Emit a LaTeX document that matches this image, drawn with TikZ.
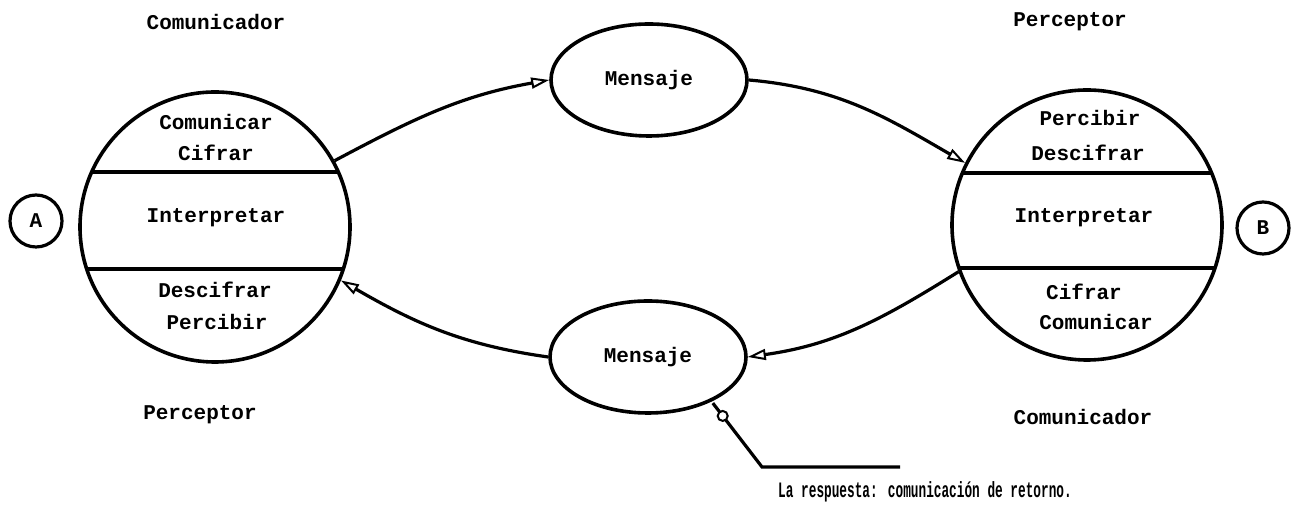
\documentclass[tikz,border=0pt]{standalone}
\usepackage{fontspec}
\newfontfamily\twfont{Liberation Mono}
\newfontfamily\capfont[FakeStretch=0.58]{Liberation Mono}
\usetikzlibrary{arrows.meta,shapes.geometric}
\tikzset{
  lbl/.style={font=\twfont\bfseries\fontsize{21}{24}\selectfont, inner sep=0pt},
  caplbl/.style={font=\capfont\bfseries\fontsize{22}{24}\selectfont, inner sep=0pt},
  bigc/.style={draw, circle, line width=3.6pt, minimum size=270pt, inner sep=0pt},
  smallc/.style={draw, circle, line width=3.2pt, minimum size=52pt, inner sep=0pt,
    font=\twfont\bfseries\fontsize{21}{24}\selectfont},
  msg/.style={draw, ellipse, line width=3.6pt, minimum width=196pt, minimum height=112pt,
    inner sep=0pt, font=\twfont\bfseries\fontsize{21}{24}\selectfont},
  chord/.style={line width=3.2pt},
  conn/.style={line width=3.2pt, -{Triangle[open, length=18pt, width=11pt, line width=2pt]}},
  ptr/.style={line width=3.2pt},
  dotc/.style={draw, circle, line width=2pt, minimum size=10pt, inner sep=0pt, fill=white}
}
\begin{document}
\begin{tikzpicture}[x=1pt,y=1pt]
\useasboundingbox (0,0) rectangle (1299,510);
% main circles
\node[bigc] (L) at (215,283) {};
\node[bigc] (R) at (1087,285) {};
\node[smallc] (A) at (36,289) {A};
\node[smallc] (B) at (1263,282) {B};
% chords
\begin{scope}
  \clip (L.center) circle[radius=135];
  \draw[chord] ([yshift=55pt]L.west) -- ([yshift=55pt]L.east);
  \draw[chord] ([yshift=-42pt]L.west) -- ([yshift=-42pt]L.east);
\end{scope}
\begin{scope}
  \clip (R.center) circle[radius=135];
  \draw[chord] ([yshift=52pt]R.west) -- ([yshift=52pt]R.east);
  \draw[chord] ([yshift=-43pt]R.west) -- ([yshift=-43pt]R.east);
\end{scope}
% left circle texts
\node[lbl] (l1) at (216,388) {Comunicar};
\node[lbl] (l2) at (216,357) {Cifrar};
\node[lbl] (l3) at (216,292) {Interpretar};
\node[lbl] (l4) at (215,220) {Descifrar};
\node[lbl] (l5) at (217,188) {Percibir};
% right circle texts
\node[lbl] (r1) at (1090,392) {Percibir};
\node[lbl] (r2) at (1088,357) {Descifrar};
\node[lbl] (r3) at (1084,292) {Interpretar};
\node[lbl] (r4) at (1084,218) {Cifrar};
\node[lbl] (r5) at (1096,188) {Comunicar};
% role labels
\node[lbl] (t1) at (216,488) {Comunicador};
\node[lbl] (t2) at (1070,488) {Perceptor};
\node[lbl] (t3) at (200,95) {Perceptor};
\node[lbl] (t4) at (1083,93) {Comunicador};
% message ellipses
\node[msg] (M1) at (649,430) {Mensaje};
\node[msg] (M2) at (648,153) {Mensaje};
% connectors
\draw[conn] (L.29) to[out=28,in=190] (M1.west);
\draw[conn] (M1.east) to[out=-5,in=150] (R.153);
\draw[conn] (R.200) to[out=212,in=8] (M2.east);
\draw[conn] (M2.west) to[out=172,in=-30] (L.-23);
% pointer to caption
\coordinate (p1) at (762,43);
\coordinate (p2) at (900,43);
\draw[ptr, shorten <=2pt] (M2.-35) -- node[dotc, pos=0.22] (pc) {} (p1) -- (p2);
\node[caplbl] (cap) at (925,18) {La respuesta: comunicación de retorno.};
\end{tikzpicture}
\end{document}
